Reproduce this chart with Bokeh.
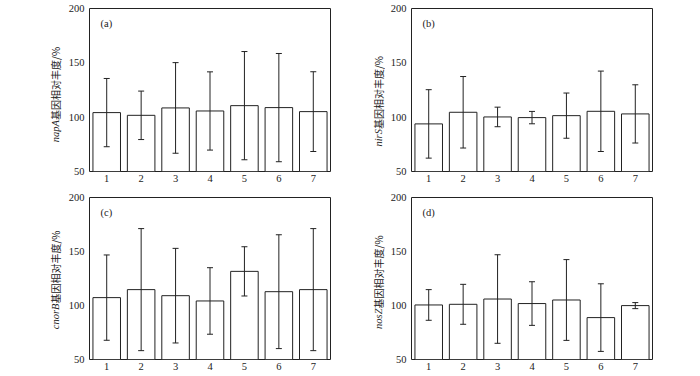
import math
from bokeh.plotting import figure
from bokeh.models import (ColumnDataSource, Range1d, FixedTicker, Label, Whisker, TeeHead)
from bokeh.core.properties import value
from bokeh.layouts import column, row
from bokeh.embed import file_html
from bokeh.resources import INLINE

categories = [1, 2, 3, 4, 5, 6, 7]
yticks = [50, 100, 150, 200]

napA_mean = [104.2, 101.7, 108.5, 105.7, 110.6, 108.8, 105.1]
napA_err = [31.4, 22.3, 41.7, 36.0, 49.8, 49.8, 36.7]
nirS_mean = [93.8, 104.5, 100.2, 99.6, 101.4, 105.4, 103.0]
nirS_err = [31.5, 32.9, 9.0, 5.7, 20.8, 37.0, 26.8]
cnorB_mean = [107.3, 114.7, 109.1, 104.2, 131.6, 112.8, 114.7]
cnorB_err = [39.5, 56.5, 43.8, 30.8, 22.8, 52.7, 56.5]
nosZ_mean = [100.5, 101.1, 106.0, 101.8, 105.1, 88.8, 99.9]
nosZ_err = [14.2, 18.5, 41.0, 20.2, 37.4, 31.3, 2.8]

panels = [
    ("(a)", "napA", napA_mean, napA_err),
    ("(b)", "nirS", nirS_mean, nirS_err),
    ("(c)", "cnorB", cnorB_mean, cnorB_err),
    ("(d)", "nosZ", nosZ_mean, nosZ_err),
]

SERIF = "Liberation Serif"
CJK = "Noto Sans CJK SC"
INK = "#222222"

# geometry: (label_fig_w, label_x, main_w, left, right, height, top, bottom, join)
geo = [
    (63, 55, 287, 26, 20, 193, 8, 22, 97.4),
    (35, 28, 315, 26, 48, 193, 8, 22, 89.0),
    (63, 55, 287, 26, 20, 183, 4, 17, 101.8),
    (35, 28, 315, 26, 48, 183, 4, 17, 97.2),
]

cells = []
for (tag, gene, mean, err), (lw, lx, w, bl, br, h, bt, bb, join) in zip(panels, geo):
    # y-axis title strip
    q = figure(width=lw, height=h, output_backend="svg", toolbar_location=None,
               x_range=Range1d(0, lw), y_range=Range1d(50, 200),
               x_axis_location=None, y_axis_location=None,
               min_border_left=0, min_border_right=0,
               min_border_top=bt, min_border_bottom=bb)
    q.xgrid.visible = False
    q.ygrid.visible = False
    q.outline_line_color = None
    q.text(x=[lx], y=[join], text=[gene], angle=math.pi / 2, text_align="right",
           text_baseline="middle", text_font=value(SERIF), text_font_style="italic",
           text_font_size="10.5px", text_color=INK)
    q.text(x=[lx], y=[join], text=["基因相对丰度/%"], angle=math.pi / 2,
           text_align="left", text_baseline="middle", text_font=value(CJK),
           text_font_size="10px", text_color=INK)

    lower = [m - e for m, e in zip(mean, err)]
    upper = [m + e for m, e in zip(mean, err)]
    src = ColumnDataSource(dict(x=categories, top=mean, lower=lower, upper=upper))
    p = figure(width=w, height=h, output_backend="svg", toolbar_location=None,
               x_range=Range1d(0.5, 7.5), y_range=Range1d(50, 200),
               min_border_left=bl, min_border_right=br,
               min_border_top=bt, min_border_bottom=bb)
    p.vbar(x="x", top="top", bottom=50, width=0.8, source=src,
           fill_color="white", line_color=INK, line_width=1)
    wk = Whisker(base="x", upper="upper", lower="lower", source=src,
                 line_color=INK, line_width=1, level="annotation",
                 upper_head=TeeHead(size=6, line_color=INK, line_width=1),
                 lower_head=TeeHead(size=6, line_color=INK, line_width=1))
    p.add_layout(wk)
    p.xgrid.visible = False
    p.ygrid.visible = False
    p.outline_line_color = INK
    p.outline_line_width = 1
    for ax in (p.xaxis[0], p.yaxis[0]):
        ax.axis_line_color = None
        ax.major_tick_line_color = None
        ax.minor_tick_line_color = None
        ax.major_tick_out = 0
        ax.major_tick_in = 0
        ax.minor_tick_out = 0
        ax.minor_tick_in = 0
        ax.major_label_text_font = SERIF
        ax.major_label_text_font_size = "10.5px"
        ax.major_label_text_color = INK
    p.xaxis.ticker = FixedTicker(ticks=categories)
    p.yaxis.ticker = FixedTicker(ticks=yticks)
    p.xaxis.major_label_standoff = 3
    p.yaxis.major_label_standoff = 5
    p.add_layout(Label(x=0.82, y=186.5, text=tag, text_font=SERIF,
                       text_font_size="10.5px", text_baseline="middle",
                       text_color=INK))
    cells.append(row(q, p))

layout = column(row(cells[0], cells[1]), row(cells[2], cells[3]))
open("out.html", "w").write(file_html(layout, INLINE))
